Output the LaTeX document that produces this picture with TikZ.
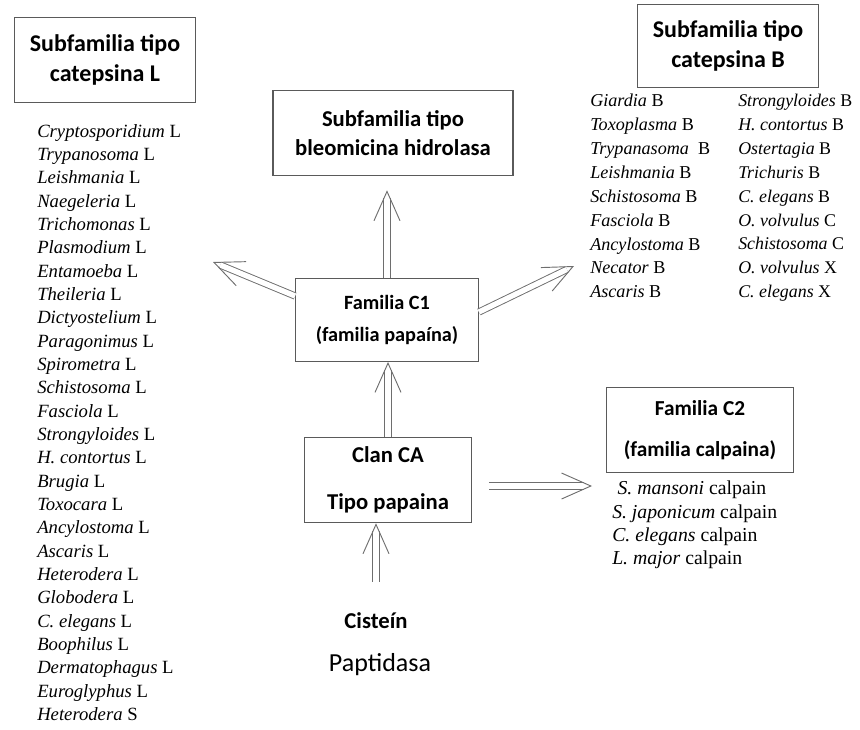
\documentclass[tikz,border=0pt]{standalone}
\usepackage{fontspec}
\setmainfont{Liberation Serif}
\newfontfamily\boxfont{Carlito}
\definecolor{boxgray}{RGB}{90,90,90}
\definecolor{arrowgray}{RGB}{110,110,110}
\usetikzlibrary{arrows.meta,positioning,calc}

\tikzset{
  famibox/.style={draw=boxgray, line width=0.9pt, align=center, inner sep=2pt,
                  font=\boxfont\bfseries\fontsize{17}{22}\selectfont},
  shaft/.style={draw=arrowgray, line width=0.7pt, double=white, double distance=4pt,
                shorten >=6pt},
  openhead/.style={draw=white, line width=0.7pt,
                   -{Straight Barb[length=22pt, width=19.5pt, color=arrowgray, line width=0.7pt]}},
  specieslist/.style={align=left, inner sep=0pt, anchor=north west}
}
% flecha hueca: cuerpo doble y punta abierta
\newcommand{\hollowarrow}[3][]{%
  \draw[shaft, #1] #2 -- #3;
  \draw[openhead, #1] #2 -- #3;}

\begin{document}
\begin{tikzpicture}[x=0.75pt, y=-0.75pt]
  \useasboundingbox (0,0) rectangle (860,729);

  % cuadros de familias y subfamilias
  \node[famibox, minimum width=136pt, minimum height=64pt,
        font=\boxfont\bfseries\fontsize{18}{22}\selectfont] (cateL) at (105,60)
    {Subfamilia tipo\\catepsina L};
  \node[famibox, minimum width=180pt, minimum height=64pt] (bleo) at (393,133)
    {Subfamilia tipo\\bleomicina hidrolasa};
  \node[famibox, minimum width=136pt, minimum height=62pt,
        font=\boxfont\bfseries\fontsize{18}{22}\selectfont] (cateB) at (728,46)
    {Subfamilia tipo\\catepsina B};
  \node[famibox, minimum width=137pt, minimum height=62pt,
        font=\boxfont\bfseries\fontsize{15.2}{18}\selectfont] (fc1) at (387,320)
    {Familia C1\\[6pt](familia papaína)};
  \node[famibox, minimum width=125pt, minimum height=64pt] (clan) at (388,480)
    {Clan CA\\[13pt]Tipo papaina};
  \node[famibox, minimum width=140pt, minimum height=64pt,
        font=\boxfont\bfseries\fontsize{16}{19}\selectfont] (fc2) at (700,430)
    {Familia C2\\[12pt](familia calpaina)};

  \node[font=\boxfont\bfseries\fontsize{17}{20}\selectfont] (cistein) at (376,621) {Cisteín};
  \node[font=\boxfont\fontsize{19.5}{22}\selectfont] (peptid) at (380,665) {Paptidasa};

  % listas de especies
  \node[specieslist, font=\fontsize{14}{17.5}\selectfont] (listL) at (37,124)
    {\textit{Cryptosporidium} L\\ \textit{Trypanosoma} L\\ \textit{Leishmania} L\\
     \textit{Naegeleria} L\\ \textit{Trichomonas} L\\ \textit{Plasmodium} L\\
     \textit{Entamoeba} L\\ \textit{Theileria} L\\ \textit{Dictyostelium} L\\
     \textit{Paragonimus} L\\ \textit{Spirometra} L\\ \textit{Schistosoma} L\\
     \textit{Fasciola} L\\ \textit{Strongyloides} L\\ \textit{H. contortus} L\\
     \textit{Brugia} L\\ \textit{Toxocara} L\\ \textit{Ancylostoma} L\\
     \textit{Ascaris} L\\ \textit{Heterodera} L\\ \textit{Globodera} L\\
     \textit{C. elegans} L\\ \textit{Boophilus} L\\ \textit{Dermatophagus} L\\
     \textit{Euroglyphus} L\\ \textit{Heterodera} S};
  \node[specieslist, font=\fontsize{13.6}{17.9}\selectfont] (listBa) at (590,94)
    {\textit{Giardia} B\\ \textit{Toxoplasma} B\\ \textit{Trypanasoma}\ \ B\\
     \textit{Leishmania} B\\ \textit{Schistosoma} B\\ \textit{Fasciola} B\\
     \textit{Ancylostoma} B\\ \textit{Necator} B\\ \textit{Ascaris} B};
  \node[specieslist, font=\fontsize{13.4}{17.9}\selectfont] (listBb) at (738,94)
    {\textit{Strongyloides} B\\ \textit{H. contortus} B\\ \textit{Ostertagia} B\\
     \textit{Trichuris} B\\ \textit{C. elegans} B\\ \textit{O. volvulus} C\\
     \textit{Schistosoma} C\\ \textit{O. volvulus} X\\ \textit{C. elegans} X};
  \node[specieslist, font=\fontsize{14.8}{17.5}\selectfont] (listC2) at (612,481)
    {\hspace{4pt}\textit{S. mansoni} calpain\\ \textit{S. japonicum} calpain\\
     \textit{C. elegans} calpain\\ \textit{L. major} calpain};

  % flechas huecas
  \coordinate (toL) at (213,262);
  \coordinate (toB) at (574,266);
  \coordinate (toC2) at (592,486);
  \coordinate (toBleo) at ($(fc1.north |- bleo.south)+(0,14)$);
  \hollowarrow[shorten <=20pt]{(cistein.north)}{(cistein.north |- clan.south)}
  \hollowarrow{(clan.north)}{(clan.north |- fc1.south)}
  \hollowarrow{(fc1.north)}{(toBleo)}
  \hollowarrow{([shift={(0,-24)}]fc1.west)}{(toL)}
  \hollowarrow{([shift={(0,-8)}]fc1.east)}{(toB)}
  \hollowarrow{([shift={(17,6)}]clan.east)}{(toC2)}
\end{tikzpicture}
\end{document}
